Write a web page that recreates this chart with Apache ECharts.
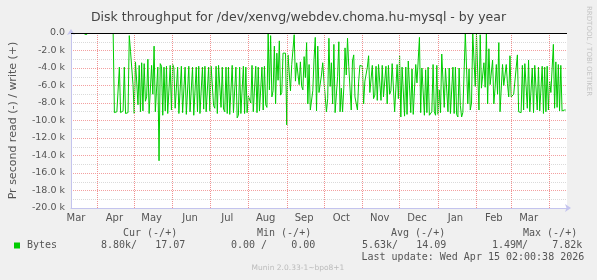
<!DOCTYPE html>
<html><head><meta charset="utf-8">
<script src="https://cdn.jsdelivr.net/npm/echarts@6/dist/echarts.min.js"></script>
<style>html,body{margin:0;padding:0;background:#f0f0f0}#c{width:597px;height:280px}</style>
</head><body><div id="c"></div>
<script>
// x axis: days since 2025-03-11 (400 days, ending Apr 15 2026)
const startDate = '2025-03-11';
const axisDays = 400;
const monthStartDays = [21, 51, 82, 112, 143, 174, 204, 235, 265, 296, 327, 355, 386];
const monthLabelDays = [4, 35, 65, 96, 126, 157, 188, 218, 249, 279, 310, 341, 369];
const monthLabels = ['Mar','Apr','May','Jun','Jul','Aug','Sep','Oct','Nov','Dec','Jan','Feb','Mar'];
const yTickValues = [0,-2000,-4000,-6000,-8000,-10000,-12000,-14000,-16000,-18000,-20000];
const yTickLabels = ['0.0','-2.0 k','-4.0 k','-6.0 k','-8.0 k','-10.0 k','-12.0 k','-14.0 k','-16.0 k','-18.0 k','-20.0 k'];

// read throughput (kB/s, negative = read), one value per day
const earlyStartDay = 11;
const earlyReadKB = [-0.15, -0.15, -0.15];
const mainStartDay = 34;
const readKB = [
  // Apr - May
  0, -9.1, -9.1, -9.0, -9.1, -3.9, -9.1, -8.9, -8.9, -3.9, -9.2, -9.1, -9.1, -0.3, -2.1, -2.1, -5.9, -9.2, -3.3, -5.6,
  -8.2, -3.7, -9.0, -3.4, -8.9, -3.5, -7.8, -7.3, -3.0, -9.2, -9.3, -3.7, -7.0, -1.5, -9.0, -8.9, -3.9, -14.6, -3.5, -3.8,
  -9.4, -3.9, -8.9,
  // Jun - Jul
  -3.8, -9.2, -9.3, -3.7, -8.8, -3.6, -4.0, -8.6, -8.7, -3.9, -9.2, -9.0, -3.8, -9.1, -9.2, -3.9, -9.3, -9.2, -3.8, -9.0,
  -9.1, -3.9, -9.4, -9.3, -3.9, -9.0, -3.8, -9.2, -9.3, -3.9, -8.7, -3.8, -9.0, -9.2, -3.9, -8.9, -3.8, -3.9, -8.3, -8.6,
  -3.8, -9.2, -3.7, -3.9, -8.5, -3.9, -8.7, -9.0,
  // Jul - Aug
  -3.9, -9.2, -3.9, -9.3, -9.5, -3.7, -9.1, -9.2, -3.9, -9.7, -9.4, -3.9, -9.2, -9.2, -3.8, -9.2, -3.9, -9.1,
  -7.2, -7.2, -8.0,
  -3.7, -9.0, -8.9, -3.8, -9.1, -3.9, -8.9, -9.0, -3.9, -8.8, -3.8, -8.2, -8.5,
  0, -6.5, -0.3, -7.3, -6.6, -1.5, -8.1, -2.3, -5.4, -0.9, -7.1, -6.8, -2.3, -2.4,
  // Sep - Oct
  -2.3, -10.5, -2.5, -2.6, -6.6, -3.6, -3.4, -0.2, -5.5, -3.4, -3.4, -5.9, -3.3, -6.1, -6.5, -2.7, -5.1, -1.1, -8.1, -3.6,
  -8.8, -8.8, -6.6, -3.0, -0.5, -8.9, -1.5, -6.8, -6.8, -4.8, -3.4, -5.5, -5.6, -9.0, -7.5, -0.6, -6.1, -3.4, -8.1, -1.3,
  -9.1, -9.1, -5.0, -1.0, -9.0, -6.3, -9.0,
  // Oct - Dec
  -6.3, -1.7, -4.8, -0.6, -3.8, -3.9, -8.8, -3.2, -2.5, -7.3, -7.5, -8.8, -5.5, -3.7, -3.7, -3.8, -8.1, -5.5, -5.4, -3.9,
  -2.6, -6.8, -6.8, -3.7, -7.5, -7.1, -3.8, -7.7, -3.6, -3.6, -7.7, -3.7, -7.3, -7.1, -3.8, -8.1, -3.7, -7.0, -6.6, -3.5,
  -3.4, -9.0, -9.0, -3.6, -7.5, -2.6, -9.6, -3.9,
  // Dec - Jan
  -3.9, -9.5, -3.9, -9.3, -3.2, -3.2, -9.1, -4.1, -9.3, -9.1, -3.6, -5.7, -5.7, -0.5, -9.1, -4.0, -4.1, -9.4, -4.2, -9.1,
  -3.9, -9.4, -9.2, -9.0, -3.6, -9.0, -9.4, -3.7, -9.3, -6.5, -9.1, -2.4, -2.4, -8.5, -4.0, -4.0, -9.0, -4.0, -9.2, -9.3,
  -3.9, -9.2, -3.9, -9.3, -9.6, -4.0, -8.3, -9.6,
  // Jan - Mar
  -9.1, -9.2, 0, 0, -8.1, -4.1, -8.8, -8.0, 0, 0, -6.1, -0.1, -0.2, -8.8, -0.2, -6.3, -6.1, -3.4, -6.2, 0,
  -8.1, -1.8, -5.9, -6.1, -3.1, -8.1, -6.3, -3.6, -7.0, -1.1, -9.0, -9.0, -3.6, -6.0, -5.9, -3.6, -5.8, -7.3, -2.6, -7.3,
  -7.5, -7.0, -6.9, -4.0, -2.5, -9.0,
  // Mar - Apr
  -9.0, -9.1, -3.7, -8.8, -3.5, -3.5, -8.6, -3.1, -9.0, -9.0, -4.0, -9.1, -3.7, -3.7, -8.8, -3.9, -8.9, -8.8, -3.8, -9.2,
  -3.9, -9.0, -3.8, -8.8, -5.5, -6.8, -7.0, -1.3, -8.6, -3.3, -8.5, -3.6, -8.9, -3.7, -8.9, -8.8, -8.8, -8.8
];

const legendHeaders = ['Cur (-/+)', 'Min (-/+)', 'Avg (-/+)', 'Max (-/+)'];
const legendValues = ['8.80k/   17.07', '0.00 /    0.00', '5.63k/   14.09', '1.49M/    7.82k'];
const seriesName = 'Bytes';
const lastUpdate = 'Last update: Wed Apr 15 02:00:38 2026';

const data = [];
earlyReadKB.forEach((v, i) => data.push([earlyStartDay + i, v * 1000]));
data.push([earlyStartDay + earlyReadKB.length, null]);
readKB.forEach((v, i) => data.push([mainStartDay + i, v * 1000]));

const mono = '10px "DejaVu Sans Mono"';
function txt(text, x, y, extra) {
  return {type: 'text', x: x, y: y, silent: true,
    style: Object.assign({text: text, font: mono, fill: '#555', align: 'left', verticalAlign: 'middle',
      textAlign: 'left', textVerticalAlign: 'middle'}, extra || {})};
}
const headerX = [123, 257, 391, 523];
const valueX = [101, 231, 362, 492];
const graphics = [];
legendHeaders.forEach((h, i) => graphics.push(txt(h, headerX[i], 233.5)));
legendValues.forEach((v, i) => graphics.push(txt(v, valueX[i], 245.5)));
graphics.push({type: 'rect', silent: true, shape: {x: 14, y: 242.5, width: 6, height: 6}, style: {fill: '#00cc00'}});
graphics.push(txt(seriesName, 27, 245.5));
graphics.push(txt(lastUpdate, 361.5, 257.5));
graphics.push(txt('Munin 2.0.33-1~bpo8+1', 298, 268.5, {font: '7.5px "DejaVu Sans"', fill: '#bbbbbb', align: 'center', textAlign: 'center'}));
graphics.push({type: 'text', x: 589, y: 6, rotation: -Math.PI / 2, silent: true,
  style: {text: 'RRDTOOL / TOBI OETIKER', font: '7px "DejaVu Sans"', fill: '#c4c4c4', align: 'left', verticalAlign: 'middle', textAlign: 'left', textVerticalAlign: 'middle'}});

const chart = echarts.init(document.getElementById('c'), null, {renderer: 'canvas'});
chart.setOption({
  animation: false,
  backgroundColor: '#f0f0f0',
  textStyle: {fontFamily: 'DejaVu Sans'},
  title: {text: 'Disk throughput for /dev/xenvg/webdev.choma.hu-mysql - by year', left: 'center', top: 6,
    textStyle: {fontSize: 12.5, fontWeight: 'normal', color: '#444', fontFamily: 'DejaVu Sans'}},
  grid: {left: 67, right: 30, top: 33, bottom: 72, show: true, backgroundColor: '#ffffff', borderWidth: 0},
  xAxis: {type: 'value', min: 0, max: axisDays,
    axisLine: {show: true, onZero: false, lineStyle: {color: '#c4c4ee'}, symbol: ['none', 'arrow'], symbolSize: [6, 6], symbolOffset: [0, 4]},
    axisTick: {show: false},
    axisLabel: {customValues: monthLabelDays, formatter: function (v) { const i = monthLabelDays.indexOf(v); return i >= 0 ? monthLabels[i] : ''; },
      color: '#555', fontSize: 10, margin: 5, fontFamily: 'DejaVu Sans'},
    splitLine: {show: false}},
  yAxis: {type: 'value', min: -20000, max: 0, interval: 2000,
    name: 'Pr second read (-) / write (+)', nameLocation: 'middle', nameGap: 52, nameRotate: 90,
    nameTextStyle: {color: '#555', fontSize: 11, fontFamily: 'DejaVu Sans'},
    axisLine: {show: true, onZero: false, lineStyle: {color: '#c4c4ee'}, symbol: ['none', 'arrow'], symbolSize: [6, 6], symbolOffset: [0, 4]},
    axisTick: {show: false},
    axisLabel: {formatter: function (v) { const i = yTickValues.indexOf(v); return i >= 0 ? yTickLabels[i] : ''; },
      color: '#555', fontSize: 9.5, margin: 6, fontFamily: 'DejaVu Sans'},
    splitLine: {show: true, lineStyle: {color: '#f3a0a0', type: [1, 1], width: 1}},
    minorTick: {show: false, splitNumber: 2},
    minorSplitLine: {show: true, lineStyle: {color: '#dadada', type: [1, 1], width: 1}}},
  series: [{
    name: seriesName, type: 'line', data: data, showSymbol: false, connectNulls: false,
    lineStyle: {color: '#00cc00', width: 1}, itemStyle: {color: '#00cc00'},
    markLine: {silent: true, symbol: ['none', 'none'], label: {show: false}, animation: false,
      data: monthStartDays.map(function (d) { return {xAxis: d, lineStyle: {color: '#f09090', type: [1, 1], width: 1}}; })
        .concat([{yAxis: 0, lineStyle: {color: '#000000', type: 'solid', width: 1}}])}
  }],
  graphic: graphics
});
</script>
</body></html>
